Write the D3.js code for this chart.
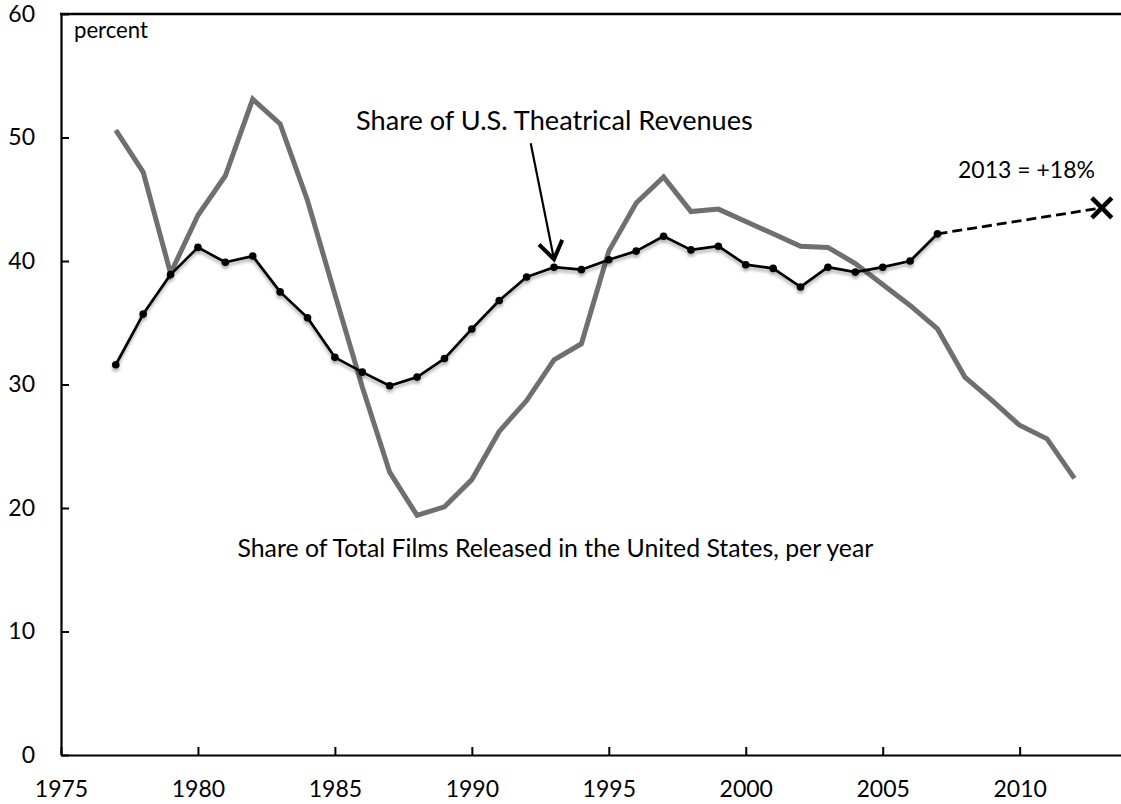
<!DOCTYPE html>
<html>
<head>
<meta charset="utf-8">
<script src="https://cdn.jsdelivr.net/npm/d3@7/dist/d3.min.js"></script>
<style>
  html, body { margin: 0; padding: 0; background: #fff; }
  svg { display: block; font-family: Lato, "Open Sans", sans-serif; }
</style>
</head>
<body>
<script>
// ---------- data ----------
const revenueYears = [1977,1978,1979,1980,1981,1982,1983,1984,1985,1986,1987,1988,1989,1990,1991,1992,1993,1994,1995,1996,1997,1998,1999,2000,2001,2002,2003,2004,2005,2006,2007];
const revenueShare = [31.6,35.7,38.9,41.1,39.9,40.4,37.5,35.4,32.2,31.0,29.9,30.6,32.1,34.5,36.8,38.7,39.5,39.3,40.1,40.8,42.0,40.9,41.2,39.7,39.4,37.9,39.5,39.1,39.5,40.0,42.2];

const filmYears = [1977,1978,1979,1980,1981,1982,1983,1984,1985,1986,1987,1988,1989,1990,1991,1992,1993,1994,1995,1996,1997,1998,1999,2000,2001,2002,2003,2004,2005,2006,2007,2008,2009,2010,2011,2012];
const filmShare = [50.6,47.2,39.0,43.7,46.9,53.1,51.1,44.9,37.3,29.8,22.9,19.4,20.1,22.3,26.2,28.7,32.0,33.3,40.8,44.7,46.8,44.0,44.2,43.2,42.2,41.2,41.1,39.8,38.1,36.4,34.5,30.6,28.7,26.7,25.6,22.4];

const projectionYears = [2007, 2013];
const projectionShare = [42.2, 44.3];

const xTicks = [1975,1980,1985,1990,1995,2000,2005,2010];
const yTicks = [0,10,20,30,40,50,60];

const labelRevenue = "Share of U.S. Theatrical Revenues";
const labelFilms = "Share of Total Films Released in the United States, per year";
const labelProjection = "2013 = +18%";
const labelUnit = "percent";

// ---------- setup ----------
const W = 1121, H = 804;
const svg = d3.select("body").append("svg").attr("width", W).attr("height", H);

const x = d3.scaleLinear().domain([1975, 2015]).range([61, 1156.6]);
const y = d3.scaleLinear().domain([0, 60]).range([755, 14]);

const defs = svg.append("defs");
const f = defs.append("filter").attr("id","shadow").attr("x","-10%").attr("y","-10%").attr("width","120%").attr("height","130%");
f.append("feDropShadow").attr("dx",0).attr("dy",3).attr("stdDeviation",1.8).attr("flood-color","#000").attr("flood-opacity",0.3);

function fit(sel, target) {
  const base = +sel.attr("font-size");
  const w = sel.node().getComputedTextLength();
  sel.attr("font-size", (base * target / w).toFixed(2));
}

// ---------- axes ----------
const xAxis = d3.axisBottom(x).tickValues(xTicks).tickFormat(d3.format("d")).tickSizeInner(-8).tickSizeOuter(0).tickPadding(26);
const gx = svg.append("g").attr("transform", `translate(0,${y(0)})`).call(xAxis);
gx.select(".domain").attr("stroke","#000").attr("stroke-width",2.2);
gx.selectAll(".tick line").attr("stroke","#000").attr("stroke-width",2);
gx.selectAll(".tick text").attr("font-size",23).attr("font-family","Lato").attr("fill","#000");

const yAxis = d3.axisLeft(y).tickValues(yTicks).tickSizeInner(-8).tickSizeOuter(0).tickPadding(26);
const gy = svg.append("g").attr("transform", `translate(${x(1975)},0)`).call(yAxis);
gy.select(".domain").attr("stroke","#000").attr("stroke-width",2.2);
gy.selectAll(".tick line").attr("stroke","#000").attr("stroke-width",2);
gy.selectAll(".tick text").attr("font-size",23).attr("font-family","Lato").attr("fill","#000");

// top frame line
svg.append("line").attr("x1", x(1975) - 1).attr("x2", x(2015)).attr("y1", y(60)).attr("y2", y(60))
  .attr("stroke","#000").attr("stroke-width",2.6);

// ---------- series ----------
const line = d3.line().x(d => x(d[0])).y(d => y(d[1]));

svg.append("path")
  .datum(d3.zip(filmYears, filmShare))
  .attr("d", line)
  .attr("fill","none").attr("stroke","#6f6f6f").attr("stroke-width",5).attr("stroke-linejoin","miter");

// projection dashed line
svg.append("path")
  .datum(d3.zip(projectionYears, projectionShare))
  .attr("d", line)
  .attr("fill","none").attr("stroke","#000").attr("stroke-width",2.8).attr("stroke-dasharray","10,5");

const rev = svg.append("g").attr("filter","url(#shadow)");
rev.append("path")
  .datum(d3.zip(revenueYears, revenueShare))
  .attr("d", line)
  .attr("fill","none").attr("stroke","#000").attr("stroke-width",2.7).attr("stroke-linejoin","round");
rev.selectAll("circle").data(d3.zip(revenueYears, revenueShare)).join("circle")
  .attr("cx", d => x(d[0])).attr("cy", d => y(d[1])).attr("r", 3.8).attr("fill","#000");

// 2013 marker
svg.append("path")
  .attr("d", d3.symbol(d3.symbolX, 260)())
  .attr("transform", `translate(${x(projectionYears[1])},${y(projectionShare[1])})`)
  .attr("fill","none").attr("stroke","#000").attr("stroke-width",4.5);

// ---------- annotations ----------
const t1 = svg.append("text").attr("x", 356).attr("y", 130).attr("font-size", 26).attr("fill","#000").text(labelRevenue);
fit(t1, 397);
const t2 = svg.append("text").attr("x", 237.5).attr("y", 556.5).attr("font-size", 22).attr("fill","#000").text(labelFilms);
fit(t2, 636);
const t3 = svg.append("text").attr("x", 958).attr("y", 178).attr("font-size", 22).attr("fill","#000").text(labelProjection);
fit(t3, 137);
const t4 = svg.append("text").attr("x", 74).attr("y", 38).attr("font-size", 20).attr("fill","#000").text(labelUnit);
fit(t4, 74);

// arrow to revenue line
const tipX = x(1993), tipY = y(revenueShare[revenueYears.indexOf(1993)]) - 8;
const startX = 530.7, startY = 143.3;
svg.append("line").attr("x1", startX).attr("y1", startY).attr("x2", tipX).attr("y2", tipY)
  .attr("stroke","#000").attr("stroke-width",2.2);
const ang = Math.atan2(tipY - startY, tipX - startX);
const headLen = 21, spread = 0.6;
const arm = s => [tipX - headLen * Math.cos(ang + s), tipY - headLen * Math.sin(ang + s)];
svg.append("path")
  .attr("d", d3.line()([arm(spread), [tipX, tipY], arm(-spread)]))
  .attr("fill","none").attr("stroke","#000").attr("stroke-width",4).attr("stroke-linejoin","miter");
</script>
</body>
</html>
